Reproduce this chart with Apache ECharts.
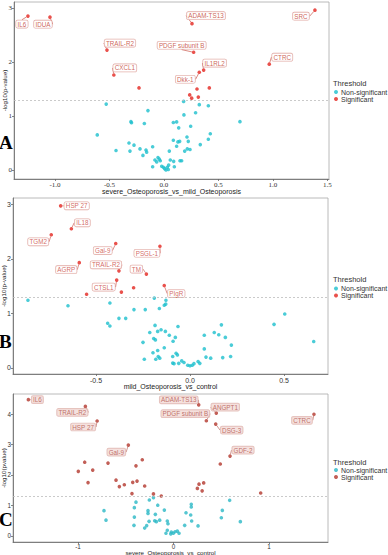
<!DOCTYPE html>
<html><head><meta charset="utf-8">
<script src="https://cdn.jsdelivr.net/npm/echarts@6/dist/echarts.min.js"></script>
<style>html,body{margin:0;padding:0;background:#fff}#c{width:388px;height:555px}</style>
</head><body><div id="c"></div>
<script>
// ---------- Panel A : severe vs mild ----------
const aSigNames = ['IL6','IDUA','TRAIL-R2','CXCL1','','ADAM-TS13','PDGF subunit B','IL1RL2','Dkk-1','','','','','','SRC','CTRC'];
const aSigX = [-1.248,-1.046,-0.523,-0.46,-0.229,0.257,0.272,0.364,0.324,0.303,0.416,0.236,0.254,0.315,1.385,0.966];
const aSigY = [2.85,2.83,2.22,1.76,1.52,2.71,2.18,1.85,1.81,1.50,1.52,1.39,1.33,1.35,2.96,1.96];
const aNonX = [-0.53,0.18,0.324,0.407,-0.147,0.183,0.29,-0.303,-0.298,-0.18,0.086,0.116,0.135,0.245,-0.612,0.425,0.407,0.211,0.086,0.128,0.144,0.223,0.333,0.116,-0.321,-0.275,-0.22,-0.165,-0.159,-0.104,-0.44,-0.312,-0.193,0.214,0.239,0.19,0.049,-0.055,-0.043,-0.083,-0.034,-0.067,0.058,0.089,0.147,0.162,-0.104,-0.021,-0.006,0.006,0.03,0.043,0.04,0.095,0.018,0.697];
const aNonY = [1.22,1.27,1.21,1.19,1.10,1.02,1.06,0.895,0.875,0.86,0.88,0.89,0.78,0.81,0.65,0.67,0.57,0.61,0.55,0.52,0.53,0.53,0.47,0.44,0.50,0.46,0.39,0.37,0.33,0.43,0.36,0.35,0.27,0.39,0.38,0.35,0.35,0.23,0.20,0.185,0.17,0.15,0.185,0.16,0.17,0.17,0.06,0.07,0.05,0.025,0.05,0.09,0.01,0.06,0.0,0.895];
const aXTicks = [-1.0,-0.5,0.0,0.5,1.0,1.5];
const aYTicks = [0,1,2,3];

// ---------- Panel B : mild vs control ----------
const bSigNames = ['HSP 27','IL18','TGM2','Gal-9','PSGL-1','AGRP','TRAIL-R2','TM','CTSL1','','','','PIgR'];
const bSigX = [-0.688,-0.631,-0.738,-0.395,-0.16,-0.589,-0.378,-0.232,-0.39,-0.365,-0.30,-0.55,-0.137];
const bSigY = [2.97,2.55,2.44,2.28,2.23,1.93,1.78,1.72,1.61,1.39,1.47,1.35,1.51];
const bNonX = [-0.862,-0.649,-0.426,-0.298,-0.238,-0.163,-0.378,-0.342,-0.438,-0.426,-0.19,-0.128,-0.129,-0.137,0.504,0.447,0.658,-0.186,-0.064,0.167,-0.214,-0.172,-0.154,-0.131,-0.11,-0.078,-0.193,-0.184,-0.09,-0.25,0.076,0.129,0.153,0.188,0.22,-0.137,-0.172,-0.197,-0.074,-0.067,-0.092,0.076,-0.169,-0.161,-0.182,-0.243,0.085,0.11,0.174,0.216,-0.092,-0.085,-0.06,-0.044,-0.032,-0.012,0,0.012,0.021,0.043,0.052];
const bNonY = [1.24,1.14,1.19,1.07,1.07,1.09,0.91,0.91,0.82,0.77,1.28,1.24,1.17,1.15,0.99,0.80,0.485,0.78,0.76,0.79,0.65,0.67,0.70,0.67,0.60,0.56,0.54,0.515,0.49,0.47,0.60,0.65,0.61,0.56,0.42,0.37,0.32,0.28,0.27,0.24,0.21,0.35,0.21,0.18,0.16,0.16,0.20,0.18,0.19,0.21,0.09,0.08,0.085,0.13,0.10,0.05,0.04,0.05,0.08,0.12,0.085];
const bXTicks = [-0.5,0.0,0.5];
const bYTicks = [0,1,2,3];

// ---------- Panel C : severe vs control ----------
const cSigNames = ['IL6','TRAIL-R2','HSP 27','Gal-9','','','','','','','','','','','','','','','','','ADAM-TS13','PDGF subunit B','ANGPT1','DSG-3','GDF-2','','CTRC','','','','',''];
const cSigX = [-1.52,-0.923,-0.80,-0.473,-0.93,-0.997,-0.846,-0.895,-0.686,-0.327,-0.393,-0.602,-0.567,-0.515,-0.427,-0.382,-0.302,-0.435,-0.21,-0.128,0.264,0.344,0.448,0.442,0.592,0.49,1.471,0.913,0.267,0.316,0.25,0.30];
const cSigY = [4.47,4.25,3.77,2.98,2.42,2.12,2.16,1.75,2.39,2.50,2.30,1.83,1.62,1.68,1.76,1.80,1.64,1.39,1.38,1.31,4.30,3.78,4.03,3.67,2.62,2.36,3.99,1.41,1.70,1.74,1.56,1.48];
const cNonX = [-0.393,-0.41,-0.728,-0.707,-0.41,-0.414,-0.253,-0.21,-0.165,-0.267,-0.267,-0.19,-0.096,-0.145,-0.197,-0.18,-0.256,-0.281,-0.302,-0.065,-0.058,-0.065,-0.079,-0.029,-0.002,0.016,0.04,0.058,-0.023,0.131,0.18,0.186,0.186,0.117,0.19,0.257,0.511,0.501,0.588,0.70];
const cNonY = [1.11,0.93,0.83,0.52,0.62,0.35,1.18,1.26,1.01,0.83,0.74,0.71,0.85,0.52,0.50,0.47,0.48,0.34,0.26,0.49,0.40,0.19,0.09,0.07,0.09,0.14,0.16,0.09,0.13,0.76,0.69,0.95,1.04,0.35,0.49,0.33,0.84,0.60,1.17,0.47];
const cXTicks = [-1,0,1];
const cYTicks = [0,1,2,3,4];

const threshold = 1.3;

// ---------- layout / style (not data) ----------
const SANS = 'Liberation Sans, Arial, sans-serif';
const SERIF = 'Liberation Serif, Times New Roman, serif';
const CYAN = '#1DBFCD', CYAN_C = '#2BB8C6';
const RED = '#E3261F', RED_C = '#B3372D';
const offA = {'IL6':[-6,8],'IDUA':[-7,7],'TRAIL-R2':[13,-7],'CXCL1':[11,-7],'ADAM-TS13':[14,-8],'PDGF subunit B':[-12,-7],'IL1RL2':[11,-7],'Dkk-1':[-14,7],'SRC':[-14,6],'CTRC':[13,-7]};
const offB = {'HSP 27':[16,0],'IL18':[11,-6],'TGM2':[-13,7],'Gal-9':[-13,7],'PSGL-1':[-13,7],'AGRP':[-13,7],'TRAIL-R2':[-13,-6],'TM':[-10,-5],'CTSL1':[-13,7],'PIgR':[12,8]};
const offC = {'IL6':[9,0],'TRAIL-R2':[-13,6],'HSP 27':[-14,6],'Gal-9':[-12,7],'ADAM-TS13':[-20,-5],'PDGF subunit B':[-21,-7],'ANGPT1':[9,-6],'DSG-3':[16,6],'GDF-2':[13,-6],'CTRC':[-12,6]};

const panels = [
  {grid:{left:14,top:2,width:315,height:177}, xr:[-1.376,1.514], yr:[-0.167,3.111],
   sn:aSigNames,sx:aSigX,sy:aSigY,nx:aNonX,ny:aNonY,xt:aXTicks,yt:aYTicks,xf:v=>v.toFixed(1),
   xname:'severe_Osteoporosis_vs_mild_Osteoporosis', yname:'-log10(p-value)', xgap:8.5, tickFont:SERIF, tfs:7, tlh:8, tm:2, nfs:7, nlh:8,
   off:offA, red:RED, cyan:CYAN, lab:{color:'#C0392B',bg:'rgba(255,255,255,0.92)',border:'#D9958D'},
   leg:{title:79, top:88.5}, letter:{t:'A',y:143}},
  {grid:{left:13,top:198,width:315,height:176}, xr:[-0.9415,0.734], yr:[-0.11,3.114],
   sn:bSigNames,sx:bSigX,sy:bSigY,nx:bNonX,ny:bNonY,xt:bXTicks,yt:bYTicks,xf:v=>v.toFixed(1),
   xname:'mild_Osteoporosis_vs_control', yname:'-log10(p-value)', xgap:8.5, tickFont:SANS, tfs:7, tlh:8, tm:2, nfs:7, nlh:8,
   off:offB, red:RED, cyan:CYAN, lab:{color:'#C8433A',bg:'rgba(255,255,255,0.92)',border:'#D9958D'},
   leg:{title:275, top:285}, letter:{t:'B',y:342}},
  {grid:{left:13,top:394,width:315,height:148}, xr:[-1.681,1.618], yr:[-0.197,4.656],
   sn:cSigNames,sx:cSigX,sy:cSigY,nx:cNonX,ny:cNonY,xt:cXTicks,yt:cYTicks,xf:v=>String(v), tfs:6.3, tlh:6, tm:1, nfs:6.2, nlh:6,
   xname:'severe_Osteoporosis_vs_control', yname:'-log10(pvalue)', xgap:7, tickFont:SANS,
   off:offC, red:RED_C, cyan:CYAN_C, lab:{color:'#B0524A',bg:'rgba(238,205,200,0.75)',border:'#DDB3AD'},
   leg:{title:458, top:466.5}, letter:{t:'C',y:520}}
];

const option = {animation:false, backgroundColor:'#fff', grid:[], xAxis:[], yAxis:[], series:[], legend:[], title:[], graphic:[]};

panels.forEach((p,i)=>{
  option.grid.push(Object.assign({show:true, borderColor:'#a8a8a8', borderWidth:0.8, backgroundColor:'#fff',
    containLabel:false, outerBoundsMode:'none'}, p.grid));
  option.xAxis.push({type:'value', gridIndex:i, min:p.xr[0], max:p.xr[1],
    axisLine:{show:true, onZero:false, lineStyle:{color:'#666', width:0.8}},
    axisTick:{show:true, length:2, customValues:p.xt, lineStyle:{color:'#666', width:0.8}},
    axisLabel:{customValues:p.xt, formatter:p.xf, fontSize:p.tfs, lineHeight:p.tlh, margin:p.tm, color:'#333', fontFamily:p.tickFont},
    splitLine:{show:false},
    name:p.xname, nameLocation:'middle', nameGap:p.xgap, nameMoveOverlap:false,
    nameTextStyle:{fontSize:p.nfs, lineHeight:p.nlh, color:'#222', fontFamily:SANS, verticalAlign:'top'}});
  option.yAxis.push({type:'value', gridIndex:i, min:p.yr[0], max:p.yr[1],
    axisLine:{show:true, onZero:false, lineStyle:{color:'#666', width:0.8}},
    axisTick:{show:true, length:2, customValues:p.yt, lineStyle:{color:'#666', width:0.8}},
    axisLabel:{customValues:p.yt, fontSize:p.tfs, margin:2, color:'#333', fontFamily:p.tickFont},
    splitLine:{show:false},
    name:p.yname, nameLocation:'middle', nameGap:6.5, nameMoveOverlap:false,
    nameTextStyle:{fontSize:6.2, color:'#222', fontFamily:SANS}});
  const non = p.nx.map((x,k)=>[x, p.ny[k]]);
  option.series.push({type:'scatter', name:'Non-significant', xAxisIndex:i, yAxisIndex:i, data:non,
    symbolSize:3.6, itemStyle:{color:p.cyan}, z:2,
    markLine:{silent:true, symbol:'none', label:{show:false}, lineStyle:{type:[2,2], color:'#bdbdbd', width:0.8}, data:[{yAxis:threshold}]}});
  const sig = p.sn.map((n,k)=>({name:n, value:[p.sx[k], p.sy[k]], label:{show:n!==''}, labelLine:{show:n!==''}}));
  const off = p.off, names = p.sn;
  option.series.push({type:'scatter', name:'Significant', xAxisIndex:i, yAxisIndex:i, data:sig,
    symbolSize:3.6, itemStyle:{color:p.red}, z:3,
    label:{position:'inside', formatter:'{b}', fontSize:6.3, fontFamily:SANS, color:p.lab.color,
      backgroundColor:p.lab.bg, borderColor:p.lab.border, borderWidth:0.6, borderRadius:1.5, padding:[1,1.5,0.5,1.5]},
    labelLine:{show:true, lineStyle:{color:p.lab.color, width:0.6}},
    labelLayout:function(prm){ const o = off[names[prm.dataIndex]]; return o ? {dx:o[0], dy:o[1]} : {}; }});
  option.title.push({text:'Threshold', left:333, top:p.leg.title, padding:0,
    textStyle:{fontSize:7.5, fontWeight:'normal', color:'#333', fontFamily:SANS}});
  option.legend.push({orient:'vertical', left:334, top:p.leg.top, padding:0, itemGap:0,
    itemWidth:4, itemHeight:4, icon:'circle', selectedMode:false,
    textStyle:{fontSize:7, color:'#333', fontFamily:SANS, lineHeight:7, padding:[0,0,0,-2]},
    data:[{name:'Non-significant', itemStyle:{color:p.cyan}}, {name:'Significant', itemStyle:{color:p.red}}]});
  option.graphic.push({type:'text', left:-1, top:p.letter.y-10, style:{text:p.letter.t, font:'bold 19px '+SERIF, fill:'#000'}});
});

const chart = echarts.init(document.getElementById('c'), null, {renderer:'svg', width:388, height:555});
chart.setOption(option);
</script></body></html>
